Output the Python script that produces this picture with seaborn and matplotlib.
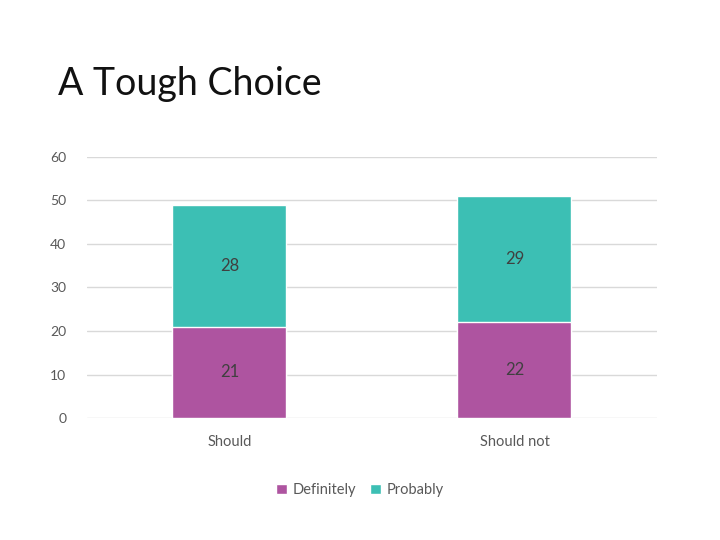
import matplotlib
matplotlib.use("Agg")
import matplotlib.pyplot as plt
import seaborn as sns
import pandas as pd
from matplotlib.patches import Patch

categories = ["Should", "Should not"]
definitely = [21, 22]
probably = [28, 29]
title = "A Tough Choice"
y_ticks = [0, 10, 20, 30, 40, 50, 60]

purple = "#AE54A0"
teal = "#3CBFB4"

sns.set_theme(style="white")
plt.rcParams["font.family"] = ["Lato", "DejaVu Sans"]

df = pd.DataFrame({
    "cat": categories,
    "Definitely": definitely,
    "Probably": probably,
})
df["Total"] = df["Definitely"] + df["Probably"]

fig = plt.figure(figsize=(7.2, 5.4), dpi=100)
ax = fig.add_axes([0.1208, 0.2259, 0.7917, 0.4834])

sns.barplot(data=df, x="cat", y="Total", color=teal, width=0.4,
            edgecolor="white", linewidth=1, saturation=1, ax=ax, zorder=3)
sns.barplot(data=df, x="cat", y="Definitely", color=purple, width=0.4,
            edgecolor="white", linewidth=1, saturation=1, ax=ax, zorder=4)

for i, (d, p) in enumerate(zip(definitely, probably)):
    ax.text(i, d / 2, str(d), ha="center", va="center", fontsize=12,
            color="#404040", zorder=5)
    ax.text(i, d + p / 2, str(p), ha="center", va="center", fontsize=12,
            color="#404040", zorder=5)

ax.set_ylim(0, 60)
ax.set_xlim(-0.5, 1.5)
ax.set_yticks(y_ticks)
ax.set_yticklabels([str(t) for t in y_ticks])
ax.yaxis.grid(True, color="#D9D9D9", linewidth=1)
ax.set_axisbelow(True)
for s in ax.spines.values():
    s.set_visible(False)
ax.tick_params(axis="y", length=0, pad=15, labelsize=10, labelcolor="#595959")
ax.tick_params(axis="x", length=0, pad=12, labelsize=10.5, labelcolor="#595959")
ax.set_xlabel("")
ax.set_ylabel("")

fig.text(58 / 720, 1 - 95 / 540, title, fontsize=27, color="#111111",
         ha="left", va="baseline", fontweight="normal")

handles = [Patch(facecolor=purple, label="Definitely"),
           Patch(facecolor=teal, label="Probably")]
fig.legend(handles=handles, loc="center", bbox_to_anchor=(0.5, 1 - 490 / 540),
           ncol=2, frameon=False, fontsize=10.5, handlelength=0.7,
           handleheight=0.7, handletextpad=0.4, columnspacing=1.0,
           labelcolor="#595959")

fig.savefig("out.png", dpi=100)
